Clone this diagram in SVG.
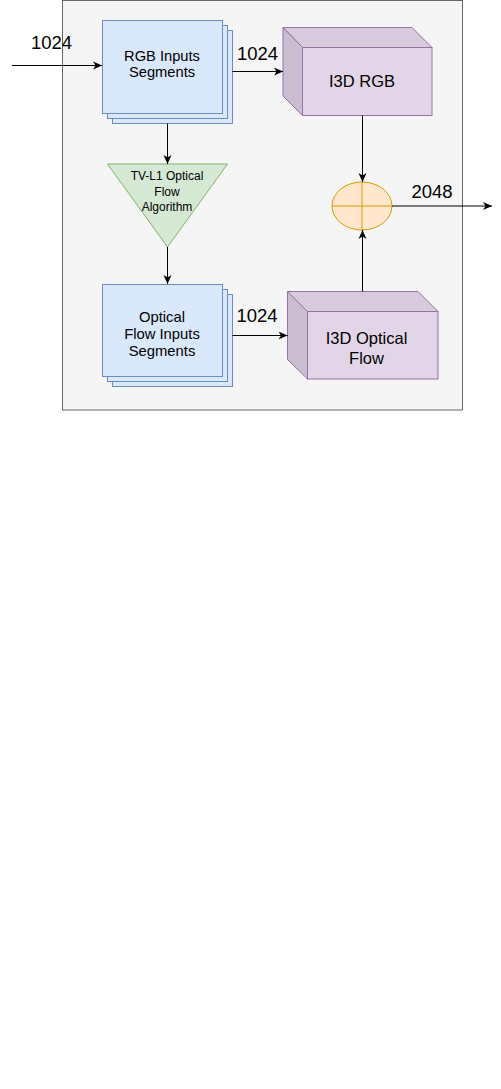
<svg xmlns="http://www.w3.org/2000/svg" width="501" height="1089" viewBox="0 0 501 1089">
<style>
text{font-family:"Liberation Sans",Arial,sans-serif;fill:#000;text-anchor:middle}
.stk{fill:#dae8fc;stroke:#6c8ebf;stroke-width:1}
.cf{fill:#e1d5e7;stroke:#9673a6;stroke-width:1}
.ct{fill:#d6cadc;stroke:#9673a6;stroke-width:1}
.cs{fill:#cabdd0;stroke:#9673a6;stroke-width:1}
.ln{fill:none;stroke:#000;stroke-width:1}
.lbl{font-size:18.5px}
</style>
<defs>
<marker id="ah" markerUnits="userSpaceOnUse" markerWidth="10" markerHeight="10" viewBox="0 0 10 8" refX="9" refY="4" orient="auto">
<path d="M0,0 L9,4 L0,8 L2.5,4 z" fill="#000"/>
</marker>
</defs>
<rect id="container" x="62.5" y="0.5" width="400" height="409.5" fill="#f5f5f5" stroke="#666666"/>
<g id="rgb-inputs">
<rect class="stk" x="112.5" y="30.5" width="120" height="93"/>
<rect class="stk" x="107.5" y="25.5" width="120" height="93"/>
<rect class="stk" x="102.5" y="20.5" width="120" height="93"/>
<text x="162" y="60.5" font-size="14.7">RGB Inputs</text>
<text x="162" y="77" font-size="14.7">Segments</text>
</g>
<g id="tvl1">
<polygon points="107.5,164 227.5,164 167.5,247" fill="#d5e8d4" stroke="#82b366"/>
<text x="167" y="180" font-size="12">TV-L1 Optical</text>
<text x="167" y="195.5" font-size="12">Flow</text>
<text x="167" y="211" font-size="12">Algorithm</text>
</g>
<g id="of-inputs">
<rect class="stk" x="112.5" y="294.5" width="120" height="92"/>
<rect class="stk" x="107.5" y="289.5" width="120" height="92"/>
<rect class="stk" x="102.5" y="284.5" width="120" height="92"/>
<text x="162" y="322" font-size="14.8">Optical</text>
<text x="162" y="339" font-size="14.8">Flow Inputs</text>
<text x="162" y="356" font-size="14.8">Segments</text>
</g>
<g id="i3d-rgb">
<polygon class="ct" points="283,27.5 412,27.5 432,47.5 302.5,47.5"/>
<polygon class="cs" points="283,27.5 302.5,47.5 302.5,115.5 283,96"/>
<rect class="cf" x="302.5" y="47.5" width="129.5" height="68"/>
<text x="362" y="86.5" font-size="16.5">I3D RGB</text>
</g>
<g id="i3d-of">
<polygon class="ct" points="287.5,291.5 418,291.5 438,311.5 307.5,311.5"/>
<polygon class="cs" points="287.5,291.5 307.5,311.5 307.5,379 287.5,359.5"/>
<rect class="cf" x="307.5" y="311.5" width="130.5" height="67.5"/>
<text x="366.5" y="344" font-size="16.5">I3D Optical</text>
<text x="366.5" y="364" font-size="16.5">Flow</text>
</g>
<g id="sum">
<ellipse cx="362" cy="206" rx="30" ry="24" fill="#ffe6cc" stroke="#d79b00"/>
<path d="M332,206 H392 M362,182 V230" stroke="#d79b00" fill="none"/>
</g>
<g id="connectors">
<path class="ln" d="M12,65.5 H102" marker-end="url(#ah)"/>
<path class="ln" d="M232.5,71.5 H283" marker-end="url(#ah)"/>
<path class="ln" d="M167.5,123.5 V164" marker-end="url(#ah)"/>
<path class="ln" d="M167.5,247 V284" marker-end="url(#ah)"/>
<path class="ln" d="M232.5,335.5 H287.5" marker-end="url(#ah)"/>
<path class="ln" d="M362.5,115.5 V182" marker-end="url(#ah)"/>
<path class="ln" d="M362.5,291.5 V230" marker-end="url(#ah)"/>
<path class="ln" d="M392,206 H492" marker-end="url(#ah)"/>
</g>
<g id="labels">
<text class="lbl" x="51.5" y="48.5">1024</text>
<text class="lbl" x="257.5" y="60">1024</text>
<text class="lbl" x="257" y="322">1024</text>
<text class="lbl" x="432" y="197.5">2048</text>
</g>
</svg>
